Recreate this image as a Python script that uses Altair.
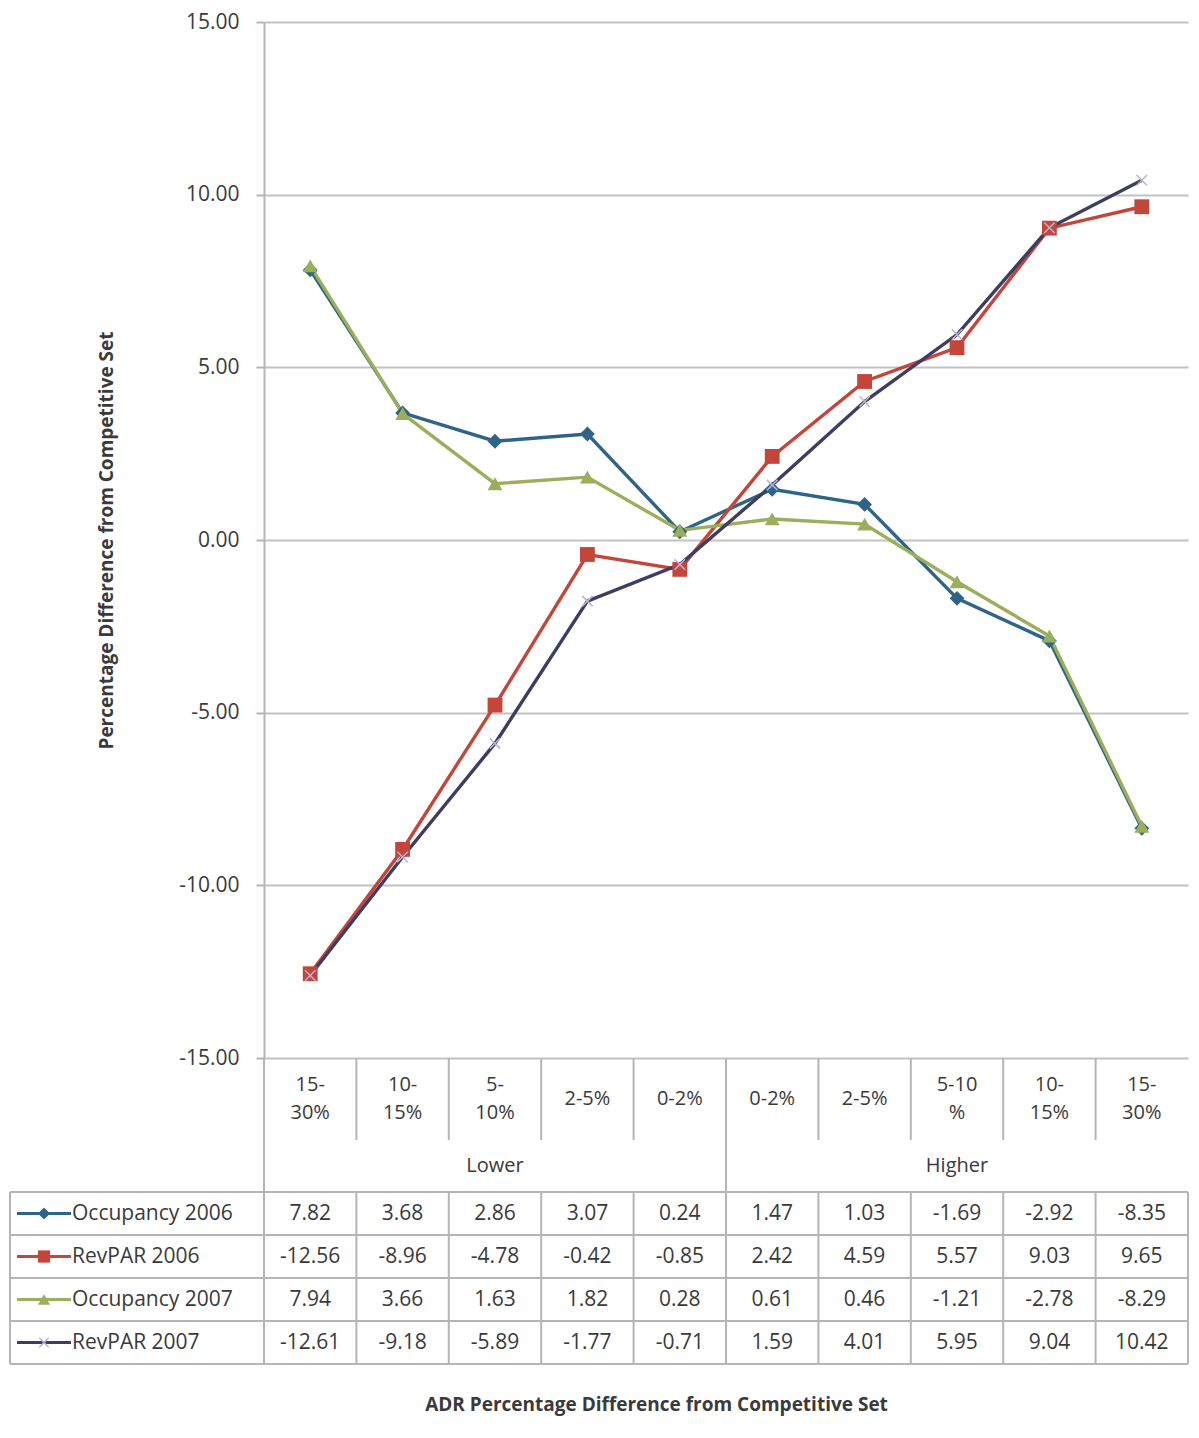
import altair as alt
import pandas as pd

# ---------------- data ----------------
categories = ["15-30%", "10-15%", "5-10%", "2-5%", "0-2%",
              "0-2%", "2-5%", "5-10%", "10-15%", "15-30%"]
category_labels = ["15-\n30%", "10-\n15%", "5-\n10%", "2-5%", "0-2%",
                   "0-2%", "2-5%", "5-10\n%", "10-\n15%", "15-\n30%"]
groups = ["Lower", "Higher"]
group_first = [0, 5]   # first category index of each group
group_last = [4, 9]    # last category index of each group
series_names = ["Occupancy 2006", "RevPAR 2006", "Occupancy 2007", "RevPAR 2007"]
occupancy_2006 = [7.82, 3.68, 2.86, 3.07, 0.24, 1.47, 1.03, -1.69, -2.92, -8.35]
revpar_2006 = [-12.56, -8.96, -4.78, -0.42, -0.85, 2.42, 4.59, 5.57, 9.03, 9.65]
occupancy_2007 = [7.94, 3.66, 1.63, 1.82, 0.28, 0.61, 0.46, -1.21, -2.78, -8.29]
revpar_2007 = [-12.61, -9.18, -5.89, -1.77, -0.71, 1.59, 4.01, 5.95, 9.04, 10.42]
y_ticks = [-15, -10, -5, 0, 5, 10, 15]
y_title = "Percentage Difference from Competitive Set"
x_title = "ADR Percentage Difference from Competitive Set"

series_values = [occupancy_2006, revpar_2006, occupancy_2007, revpar_2007]

# ---------------- layout / style ----------------
PLOT_W = 924
COL_W = PLOT_W / 10.0
LINES_H = 1036
HEADER_H = 82
GROUP_H = 52
ROW_H = 43
LINE_H = 28
TABLE_H = HEADER_H + GROUP_H + 4 * ROW_H
TOTAL_H = LINES_H + TABLE_H
LEGEND_W = 254
FONT = "Open Sans"
TEXT_COLOR = "#3a3a3a"
GRID_COLOR = "#c2c2c2"
BORDER_COLOR = "#b5b5b5"
colors = ["#2e6488", "#c4463a", "#9aae5c", "#3d3d62"]
shapes = ["diamond", "square", "triangle-up", "M-1,-1L1,1M-1,1L1,-1"]
CROSS_COLOR = "#b9b3d6"


def px(v):
    """convert a horizontal pixel offset from the plot's left edge to x units"""
    return v / COL_W


LEFT = px(-LEGEND_W)
DATA_TOP = HEADER_H + GROUP_H

# ---------------- frames ----------------
line_rows = []
for name, vals in zip(series_names, series_values):
    for i, v in enumerate(vals):
        line_rows.append({"series": name, "pos": i + 0.5, "value": v})
lines_df = pd.DataFrame(line_rows)

header_df = pd.DataFrame({
    "x": [i + 0.5 for i in range(len(categories))],
    "y": [HEADER_H / 2 - (lab.count("\n")) * LINE_H / 2 for lab in category_labels],
    "label": category_labels})
group_df = pd.DataFrame({"x": [(a + b + 1) / 2 for a, b in zip(group_first, group_last)],
                         "y": [HEADER_H + GROUP_H / 2] * len(groups),
                         "label": groups})
cell_rows = []
for r, (name, vals) in enumerate(zip(series_names, series_values)):
    for i, v in enumerate(vals):
        cell_rows.append({"x": i + 0.5, "y": DATA_TOP + (r + 0.5) * ROW_H,
                          "label": f"{v:.2f}"})
cells_df = pd.DataFrame(cell_rows)

legend_df = pd.DataFrame({
    "series": series_names,
    "y": [DATA_TOP + (r + 0.5) * ROW_H for r in range(len(series_names))],
    "x_text": [px(-192)] * len(series_names),
    "x_a": [px(-247)] * len(series_names),
    "x_b": [px(-193)] * len(series_names),
    "x_m": [px(-220)] * len(series_names),
})

rules = []
# horizontal table lines
for r in range(5):
    y = DATA_TOP + r * ROW_H
    rules.append({"x": LEFT, "x2": 10, "y": y, "y2": y})
# vertical lines in data rows
for b in [LEFT] + list(range(11)):
    rules.append({"x": b, "x2": b, "y": DATA_TOP, "y2": TABLE_H})
# left border of header, group divider
rules.append({"x": 0, "x2": 0, "y": 0, "y2": DATA_TOP})
rules.append({"x": 5, "x2": 5, "y": 0, "y2": DATA_TOP})
# category separators in header
for b in range(1, 10):
    if b != 5:
        rules.append({"x": b, "x2": b, "y": 0, "y2": HEADER_H})
rules_df = pd.DataFrame(rules)

# ---------------- scales / axes ----------------
x_scale = alt.Scale(domain=[0, 10], nice=False, zero=False)
x_axis = alt.Axis(labels=False, ticks=False, domain=False, grid=False,
                  title=x_title, titleFont=FONT, titleFontSize=19,
                  titleFontWeight="bold", titleColor=TEXT_COLOR,
                  titlePadding=31, titleX=392, titleAnchor="middle")
y_lines = alt.Scale(domain=[-15, 15], nice=False, zero=False, range=[LINES_H, 0])
y_axis = alt.Axis(values=y_ticks,
                  labelExpr="replace(format(datum.value, '.2f'), '\u2212', '-')",
                  grid=True, gridColor=GRID_COLOR,
                  gridWidth=2, domainColor=BORDER_COLOR, domainWidth=2,
                  tickColor=BORDER_COLOR, tickWidth=2, tickSize=8,
                  labelFont=FONT, labelFontSize=21, labelColor=TEXT_COLOR,
                  labelPadding=17, title=y_title, titleFont=FONT,
                  titleFontSize=19, titleFontWeight="bold",
                  titleColor=TEXT_COLOR, titlePadding=62)
y_table = alt.Scale(domain=[0, TABLE_H], nice=False, zero=False,
                    range=[LINES_H, LINES_H + TABLE_H])
color_scale = alt.Scale(domain=series_names, range=colors)
shape_scale = alt.Scale(domain=series_names[:3], range=shapes[:3])

X = lambda f: alt.X(f, scale=x_scale, axis=x_axis)
YL = lambda f: alt.Y(f, scale=y_lines, axis=y_axis)
YT = lambda f: alt.Y(f, scale=y_table, axis=None)

# ---------------- line chart ----------------
line_layer = alt.Chart(lines_df).mark_line(strokeWidth=3.4).encode(
    x=X("pos:Q"),
    y=YL("value:Q"),
    color=alt.Color("series:N", scale=color_scale, legend=None),
)
filled_pts = alt.Chart(lines_df).transform_filter(
    alt.FieldOneOfPredicate(field="series", oneOf=series_names[:3])
).mark_point(filled=True, opacity=1, size=220).encode(
    x=X("pos:Q"),
    y=YL("value:Q"),
    color=alt.Color("series:N", scale=color_scale, legend=None),
    shape=alt.Shape("series:N", scale=shape_scale, legend=None),
)
cross_pts = alt.Chart(lines_df).transform_filter(
    alt.FieldEqualPredicate(field="series", equal=series_names[3])
).mark_point(shape=shapes[3], filled=False, size=110, stroke=CROSS_COLOR,
             strokeWidth=1.5, opacity=1).encode(
    x=X("pos:Q"),
    y=YL("value:Q"),
)
lines_part = alt.layer(line_layer, filled_pts, cross_pts)

# ---------------- data table ----------------
borders = alt.Chart(rules_df).mark_rule(color=BORDER_COLOR, strokeWidth=2).encode(
    x=X("x:Q"), x2="x2:Q", y=YT("y:Q"), y2="y2:Q")
header_text = alt.Chart(header_df).mark_text(
    font=FONT, fontSize=20, color=TEXT_COLOR, lineBreak="\n", lineHeight=LINE_H,
    baseline="middle", align="center").encode(x=X("x:Q"), y=YT("y:Q"), text="label:N")
group_text = alt.Chart(group_df).mark_text(
    font=FONT, fontSize=20, color=TEXT_COLOR, baseline="middle",
    align="center").encode(x=X("x:Q"), y=YT("y:Q"), text="label:N")
cell_text = alt.Chart(cells_df).mark_text(
    font=FONT, fontSize=21, color=TEXT_COLOR, baseline="middle",
    align="center").encode(x=X("x:Q"), y=YT("y:Q"), text="label:N")
legend_text = alt.Chart(legend_df).mark_text(
    font=FONT, fontSize=21, color=TEXT_COLOR, baseline="middle",
    align="left").encode(x=X("x_text:Q"), y=YT("y:Q"), text="series:N")
legend_lines = alt.Chart(legend_df).mark_rule(strokeWidth=3).encode(
    x=X("x_a:Q"), x2="x_b:Q", y=YT("y:Q"),
    color=alt.Color("series:N", scale=color_scale, legend=None))
legend_pts = alt.Chart(legend_df).transform_filter(
    alt.FieldOneOfPredicate(field="series", oneOf=series_names[:3])
).mark_point(filled=True, opacity=1, size=150).encode(
    x=X("x_m:Q"), y=YT("y:Q"),
    color=alt.Color("series:N", scale=color_scale, legend=None),
    shape=alt.Shape("series:N", scale=shape_scale, legend=None))
legend_cross = alt.Chart(legend_df).transform_filter(
    alt.FieldEqualPredicate(field="series", equal=series_names[3])
).mark_point(shape=shapes[3], filled=False, size=90, stroke=CROSS_COLOR,
             strokeWidth=1.5, opacity=1).encode(x=X("x_m:Q"), y=YT("y:Q"))

table_part = alt.layer(borders, header_text, group_text, cell_text,
                       legend_lines, legend_pts, legend_cross, legend_text)

chart = alt.layer(lines_part, table_part).resolve_scale(
    y="independent"
).properties(
    width=PLOT_W, height=TOTAL_H,
    padding={"left": 1, "top": 3, "right": 0, "bottom": 5},
    background="white",
).configure_view(stroke=None)

chart.save("out.html", embed_options={"renderer": "svg", "actions": False})
